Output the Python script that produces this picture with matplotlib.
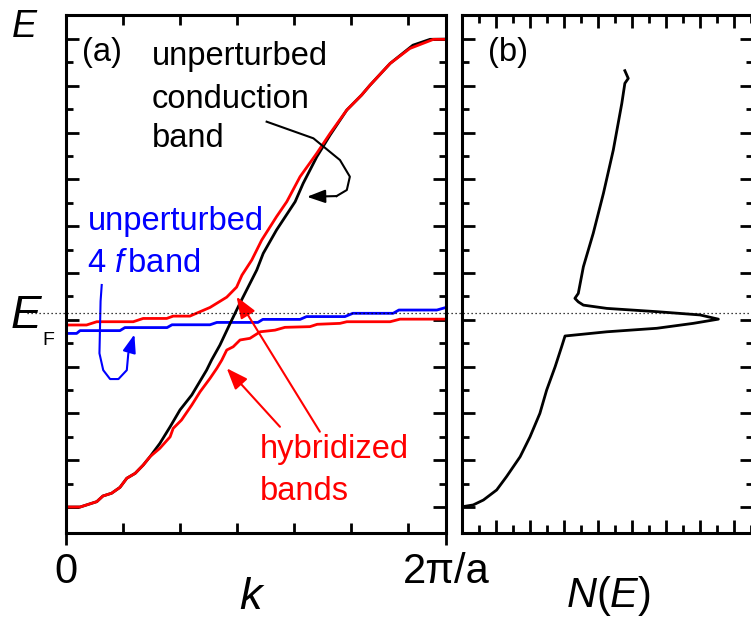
import numpy as np
import matplotlib
matplotlib.use("Agg")
import matplotlib.pyplot as plt
from matplotlib.lines import Line2D
from matplotlib.transforms import blended_transform_factory

plt.rcParams['font.family'] = ['Liberation Sans', 'DejaVu Sans']
plt.rcParams['mathtext.fontset'] = 'custom'
plt.rcParams['mathtext.rm'] = 'Liberation Sans'
plt.rcParams['mathtext.it'] = 'Liberation Sans:italic'

# k in units of 2pi/a, E in units of the half band width
k_cond = [0, 0.037, 0.081, 0.097, 0.120, 0.142, 0.160, 0.182, 0.203, 0.221, 0.247, 0.274,
          0.300, 0.331, 0.370, 0.383, 0.405, 0.432, 0.458, 0.502, 0.519, 0.554, 0.603, 0.624,
          0.660, 0.695, 0.739, 0.778, 0.800, 0.853, 0.913, 0.958, 1.0]
E_cond = [-1.0, -1.0, -0.977, -0.953, -0.941, -0.916, -0.877, -0.856, -0.821, -0.785, -0.728, -0.657,
          -0.585, -0.521, -0.415, -0.372, -0.308, -0.215, -0.128, 0.013, 0.084, 0.184, 0.305, 0.383,
          0.497, 0.590, 0.697, 0.761, 0.803, 0.896, 0.974, 0.999, 1.0]

k_4f = [0, 0.028, 0.037, 0.142, 0.155, 0.266, 0.279, 0.379, 0.397, 0.505, 0.518, 0.616,
        0.633, 0.734, 0.755, 0.861, 0.876, 0.976, 1.0]
E_4f = [-0.258, -0.258, -0.246, -0.246, -0.233, -0.233, -0.221, -0.221, -0.211, -0.211, -0.198, -0.198,
        -0.186, -0.186, -0.172, -0.172, -0.158, -0.158, -0.147]

k_hyb_up = [0, 0.054, 0.081, 0.177, 0.203, 0.265, 0.282, 0.326, 0.353, 0.379, 0.423, 0.449,
            0.463, 0.489, 0.515, 0.554, 0.581, 0.616, 0.660, 0.695, 0.739, 0.778, 0.800, 0.853,
            0.905, 0.967, 1.0]
E_hyb_up = [-0.222, -0.222, -0.208, -0.208, -0.194, -0.194, -0.184, -0.184, -0.165, -0.147, -0.103, -0.060,
            -0.009, 0.056, 0.141, 0.241, 0.305, 0.412, 0.512, 0.597, 0.697, 0.761, 0.803, 0.896,
            0.960, 0.999, 0.999]

k_hyb_lo = [0, 0.037, 0.081, 0.097, 0.120, 0.142, 0.160, 0.182, 0.203, 0.221, 0.247, 0.274,
            0.282, 0.304, 0.331, 0.353, 0.379, 0.397, 0.410, 0.423, 0.440, 0.458, 0.484, 0.511,
            0.550, 0.576, 0.642, 0.661, 0.721, 0.739, 0.853, 0.879, 1.0]
E_hyb_lo = [-1.0, -1.0, -0.977, -0.953, -0.941, -0.916, -0.877, -0.856, -0.821, -0.785, -0.749, -0.700,
            -0.664, -0.628, -0.564, -0.507, -0.450, -0.407, -0.372, -0.329, -0.315, -0.286, -0.279, -0.251,
            -0.244, -0.232, -0.229, -0.219, -0.215, -0.208, -0.208, -0.197, -0.197]

# density of states of the hybridized bands
N_dos = [0, 0.33, 0.63, 1.02, 1.31, 1.71, 2.00, 2.29, 2.49, 2.74, 2.93, 3.03, 4.26, 5.73, 6.80,
         7.54, 7.0, 5.73, 4.26, 3.57, 3.42, 3.32, 3.42, 3.57, 3.86, 4.16, 4.45, 4.70, 4.79, 4.89, 4.79]
E_dos = [-0.999, -0.991, -0.970, -0.927, -0.870, -0.785, -0.700, -0.600, -0.500, -0.400, -0.315, -0.269,
         -0.251, -0.236, -0.215, -0.197, -0.179, -0.165, -0.151, -0.137, -0.123, -0.108, -0.087, 0.027,
         0.170, 0.341, 0.526, 0.725, 0.811, 0.832, 0.865]

E_fermi = -0.171

# annotation pointer paths (k, E)
cond_ptr = [(0.528, 0.647), (0.651, 0.576), (0.721, 0.483), (0.747, 0.412), (0.739, 0.355), (0.712, 0.329)]
cond_tip = (0.634, 0.326)
f_ptr = [(0.094, -0.051), (0.091, -0.12), (0.088, -0.343), (0.098, -0.415), (0.116, -0.453),
         (0.138, -0.453), (0.160, -0.415), (0.164, -0.343), (0.168, -0.33)]
f_tip = (0.180, -0.262)
hyb_tails = [(0.668, -0.678), (0.563, -0.657)]
hyb_tips = [(0.449, -0.101), (0.423, -0.407)]

W, H = 751, 619
fig = plt.figure(figsize=(W / 100, H / 100), dpi=100)
ax_a = fig.add_axes([66 / W, 1 - 533 / H, 380 / W, 518 / H])
ax_b = fig.add_axes([462 / W, 1 - 533 / H, 291 / W, 518 / H])

ylims = (-1.111, 1.103)
lw = 2.0

# (a) band structure
ax_a.plot(k_4f, E_4f, color='#0000ff', lw=lw)
ax_a.plot(k_cond, E_cond, color='black', lw=lw)
ax_a.plot(k_hyb_up, E_hyb_up, color='#ff0000', lw=lw)
ax_a.plot(k_hyb_lo, E_hyb_lo, color='#ff0000', lw=lw)
ax_a.set_xlim(0, 1)
ax_a.set_ylim(*ylims)

# pointer from the conduction band label
px, py = zip(*cond_ptr)
ax_a.plot(px, py, color='black', lw=1.5)
ax_a.annotate('', xy=cond_tip, xytext=cond_ptr[-1],
              arrowprops=dict(arrowstyle='-|>,head_length=0.55,head_width=0.2', color='black',
                              lw=1.5, shrinkA=0, shrinkB=0, mutation_scale=20))
px, py = zip(*f_ptr)
ax_a.plot(px, py, color='#0000ff', lw=1.5)
ax_a.annotate('', xy=f_tip, xytext=f_ptr[-1],
              arrowprops=dict(arrowstyle='-|>,head_length=0.55,head_width=0.2', color='#0000ff',
                              lw=1.5, shrinkA=0, shrinkB=0, mutation_scale=20))
for tail, tip in zip(hyb_tails, hyb_tips):
    ax_a.annotate('', xy=tip, xytext=tail,
                  arrowprops=dict(arrowstyle='-|>,head_length=0.65,head_width=0.25', color='#ff0000',
                                  lw=1.5, shrinkA=0, shrinkB=0, mutation_scale=20))

# (b) density of states
ax_b.plot(N_dos, E_dos, color='black', lw=lw)
ax_b.set_xlim(0, 291 / 34)
ax_b.set_ylim(*ylims)

for ax in (ax_a, ax_b):
    for s in ax.spines.values():
        s.set_linewidth(2.2)
    ax.set_yticks(np.arange(-1.0, 1.01, 0.2))
    ax.set_yticks(np.arange(-0.9, 1.0, 0.2), minor=True)
    ax.tick_params(axis='y', which='both', direction='in', left=True, right=True,
                   labelleft=False, width=2)
    ax.tick_params(axis='y', which='major', length=9.4)
    ax.tick_params(axis='y', which='minor', length=5)

ax_a.set_xticks([0, 1])
ax_a.set_xticklabels(['0', '2\u03c0/a'])
ax_a.set_xticks(np.arange(0.15, 0.95, 0.15), minor=True)
ax_a.tick_params(axis='x', which='major', direction='out', length=8.6, width=2,
                 top=False, labelsize=30, pad=5)
ax_a.tick_params(axis='x', which='minor', direction='in', length=7, width=2,
                 top=True, bottom=True)

ax_b.set_xticks(np.arange(1, 9, 1))
ax_b.set_xticks(np.arange(0.5, 8.6, 1), minor=True)
ax_b.tick_params(axis='x', which='both', direction='in', top=True, bottom=True,
                 labelbottom=False, width=2)
ax_b.tick_params(axis='x', which='major', length=9.4)
ax_b.tick_params(axis='x', which='minor', length=5.5)

# Fermi level across both panels
tr = blended_transform_factory(fig.transFigure, ax_a.transData)
fig.add_artist(Line2D([27 / W, 1.0], [E_fermi, E_fermi], transform=tr, color='black',
                      lw=0.9, linestyle=(0, (1, 2.2))))


def ftext(x, y, s, **kw):
    fig.text(x / W, 1 - y / H, s, va='baseline', **kw)


fs = 23.5
ftext(82, 61, '(a)', fontsize=fs)
ftext(488, 61, '(b)', fontsize=fs)
ftext(152, 65, 'unperturbed', fontsize=fs)
ftext(152, 108, 'conduction', fontsize=fs)
ftext(152, 147, 'band', fontsize=fs)
ftext(88, 230, 'unperturbed', fontsize=fs, color='#0000ff')
ftext(87, 272, '4 $f\\,$band', fontsize=fs, color='#0000ff')
ftext(260, 458, 'hybridized', fontsize=fs, color='#ff0000')
ftext(260, 500, 'bands', fontsize=fs, color='#ff0000')

ftext(12, 37, 'E', fontsize=27, style='italic')
ftext(11, 328, 'E', fontsize=33, style='italic')
ftext(42, 345, 'F', fontsize=14)
ftext(252, 609, '$k$', fontsize=32.5, ha='center')
ftext(608, 607, '$N$($E$)', fontsize=30, ha='center')

fig.savefig('out.png', dpi=100)
